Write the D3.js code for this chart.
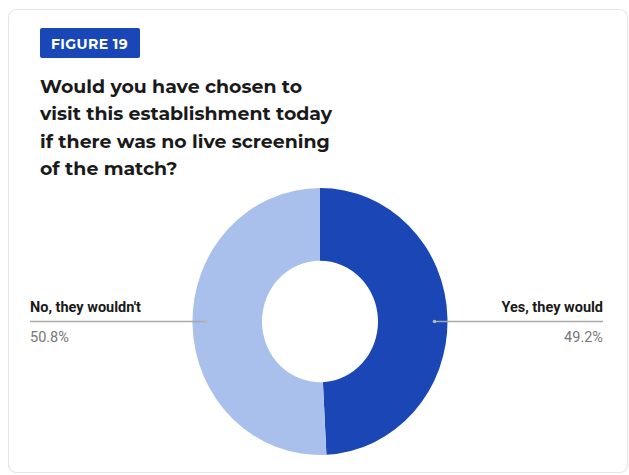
<!DOCTYPE html>
<html>
<head>
<meta charset="utf-8">
<script src="https://cdn.jsdelivr.net/npm/d3@7"></script>
<style>
  html, body { margin: 0; padding: 0; background: #ffffff; }
  svg { display: block; }
</style>
</head>
<body>
<script>
// Survey answers, in drawing order (clockwise from 12 o'clock)
const categories = ["Yes, they would", "No, they wouldn't"];
const values = [49.2, 50.8];
const valueLabels = ["49.2%", "50.8%"];
const sliceColors = ["#1a47b5", "#a9c0ec"];

const badgeText = "FIGURE 19";
const titleLines = [
  "Would you have chosen to",
  "visit this establishment today",
  "if there was no live screening",
  "of the match?"
];

const W = 629, H = 475;
const svg = d3.select("body").append("svg").attr("width", W).attr("height", H);

// card
svg.append("rect")
  .attr("x", 8.5).attr("y", 9.5).attr("width", 619).attr("height", 463)
  .attr("rx", 8).attr("fill", "#ffffff")
  .attr("stroke", "#e6e6e6").attr("stroke-width", 1.2);

// figure badge
const badge = svg.append("g").attr("transform", "translate(40,28)");
badge.append("rect").attr("width", 100).attr("height", 30).attr("rx", 2).attr("fill", "#1a47b8");
badge.append("text").attr("x", 11).attr("y", 20.5)
  .attr("font-family", "Montserrat, Inter, 'Open Sans', sans-serif")
  .attr("font-weight", 700).attr("font-size", 14).attr("letter-spacing", 0.4).attr("fill", "#ffffff")
  .text(badgeText);

// title
svg.append("g").selectAll("text").data(titleLines).join("text")
  .attr("x", 40).attr("y", (d, i) => 93 + i * 27.3)
  .attr("font-family", "Montserrat, Inter, 'Open Sans', sans-serif")
  .attr("font-weight", 700).attr("font-size", 18.9).attr("fill", "#1a1a1a")
  .text(d => d);

// donut
const cx = 320, cy = 321.5, outerR = 127.5, innerR = 58, yStretch = 1.047;
const pie = d3.pie().sort(null).value(d => d)(values);
const arc = d3.arc().innerRadius(innerR).outerRadius(outerR);
const donut = svg.append("g")
  .attr("transform", `translate(${cx},${cy}) scale(1,${yStretch})`);
donut.selectAll("path").data(pie).join("path")
  .attr("d", arc)
  .attr("fill", (d, i) => sliceColors[i]);

// leader lines and labels
const labelFont = "Roboto, 'Liberation Sans', sans-serif";
const sides = [
  { lineEnd: 603, anchor: "end" },
  { lineEnd: 30, anchor: "start" }
];
pie.forEach((d, i) => {
  const mid = (d.startAngle + d.endAngle) / 2;
  const px = cx + Math.sin(mid) * (outerR - 13);
  const py = cy;
  const s = sides[i];
  svg.append("line")
    .attr("x1", px).attr("y1", py).attr("x2", s.lineEnd).attr("y2", py)
    .attr("stroke", "#a8a8a8").attr("stroke-width", 1.5);
  svg.append("circle").attr("cx", px).attr("cy", py).attr("r", 1.8).attr("fill", "#b8b8b8");
  svg.append("text")
    .attr("x", s.lineEnd).attr("y", py - 10)
    .attr("text-anchor", s.anchor)
    .attr("font-family", labelFont).attr("font-weight", 700)
    .attr("font-size", 14.5).attr("fill", "#1a1a1a")
    .text(categories[i]);
  svg.append("text")
    .attr("x", s.lineEnd).attr("y", py + 20)
    .attr("text-anchor", s.anchor)
    .attr("font-family", labelFont)
    .attr("font-size", 14.5).attr("fill", "#777777")
    .text(valueLabels[i]);
});
</script>
</body>
</html>
